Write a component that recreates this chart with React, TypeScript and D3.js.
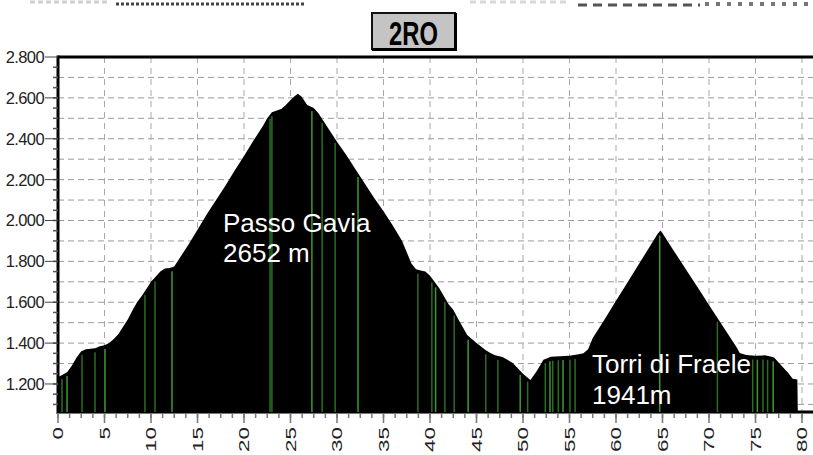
import React from "react";
import * as d3 from "d3";

const distances = [0, 0.5, 1, 1.5, 2, 2.5, 3, 3.5, 4, 4.5, 5, 5.5, 6, 6.5, 7, 7.5, 8, 8.5, 9, 9.5, 10, 10.5, 11, 11.5, 12, 12.5, 13, 14, 15, 16, 17, 18, 19, 20, 21, 22, 22.5, 23, 24, 24.5, 25, 25.5, 25.8, 26.2, 26.8, 27.5, 28, 29, 30, 31, 32, 33, 34, 35, 36, 37, 37.5, 38, 38.5, 39, 39.5, 40, 41, 42, 42.5, 43, 43.5, 44, 45, 46, 46.5, 47, 47.8, 48.9, 50, 50.8, 51.5, 52.2, 53, 54, 55, 56, 56.5, 57, 57.5, 58, 59, 60, 61, 62, 63, 64, 64.5, 64.8, 65, 66, 67, 68, 69, 70, 71, 72, 73, 73.3, 74, 75, 76, 76.5, 77, 78, 78.5, 79, 79.5, 79.55, 82];
const elevations = [1234, 1245, 1259, 1290, 1330, 1360, 1370, 1372, 1375, 1385, 1390, 1400, 1420, 1445, 1480, 1515, 1560, 1600, 1630, 1665, 1700, 1725, 1750, 1765, 1768, 1775, 1810, 1880, 1955, 2030, 2100, 2170, 2245, 2315, 2390, 2460, 2500, 2530, 2545, 2565, 2590, 2610, 2620, 2605, 2565, 2550, 2525, 2455, 2385, 2320, 2250, 2180, 2110, 2045, 1975, 1900, 1845, 1790, 1762, 1755, 1750, 1730, 1668, 1590, 1563, 1520, 1480, 1440, 1401, 1365, 1352, 1340, 1332, 1303, 1250, 1220, 1265, 1318, 1333, 1336, 1338, 1345, 1350, 1370, 1425, 1460, 1533, 1607, 1680, 1753, 1826, 1900, 1936, 1951, 1937, 1867, 1797, 1727, 1657, 1587, 1517, 1447, 1377, 1352, 1342, 1338, 1340, 1336, 1330, 1280, 1255, 1225, 1222, 1070, 1070];
const markerKm = [0.43, 0.97, 2.58, 3.98, 5.05, 9.35, 10.43, 12.26, 22.8, 23.0, 27.3, 28.4, 29.8, 32.26, 38.7, 40.2, 40.6, 41.6, 42.6, 44.1, 46.0, 47.3, 49.7, 50.5, 52.4, 52.9, 53.2, 53.8, 54.3, 55.05, 55.6, 64.7, 70.9, 74.7, 75.2, 75.8, 76.3, 76.9];
const yTicks = [1200, 1400, 1600, 1800, 2000, 2200, 2400, 2600, 2800];
const yTickLabels = ["1.200", "1.400", "1.600", "1.800", "2.000", "2.200", "2.400", "2.600", "2.800"];
const xTicks = [0, 5, 10, 15, 20, 25, 30, 35, 40, 45, 50, 55, 60, 65, 70, 75, 80];
const title = "2RO";
const peakLabels = [
  { name: "Passo Gavia", height: "2652 m" },
  { name: "Torri di Fraele", height: "1941m" },
];

const W = 813;
const H = 455;
const left = 58;
const top = 57;
const bottom = 413;
const FONT = "'Liberation Sans', Arial, sans-serif";

export default function App() {
  const x = d3.scaleLinear().domain([0, 80]).range([left, 802]);
  const y = d3.scaleLinear().domain([1058, 2800]).range([bottom, top]);
  const xMaxKm = x.invert(W + 2);

  const pts: [number, number][] = distances.map((d, i) => [d, elevations[i]]);
  const area = d3
    .area<[number, number]>()
    .x((d) => x(d[0]))
    .y0(bottom)
    .y1((d) => y(d[1]))
    .curve(d3.curveLinear);

  const elevAt = (km: number) => {
    const i = d3.bisectRight(distances, km);
    if (i <= 0) return elevations[0];
    if (i >= distances.length) return elevations[elevations.length - 1];
    const d0 = distances[i - 1], d1 = distances[i];
    const t = (km - d0) / (d1 - d0);
    return elevations[i - 1] + t * (elevations[i] - elevations[i - 1]);
  };

  const hGrid = d3.range(1100, 2800, 100);
  const vGrid = d3.range(5, 85, 5);
  const yMinor = d3.range(1100, 2800, 50);
  const xMinor = d3.range(0, xMaxKm, 1.25);

  const labelPos = [
    { x: 223, y1: 232, y2: 262 },
    { x: 592, y1: 373, y2: 404 },
  ];

  return (
    <svg width={W} height={H} style={{ position: "absolute", left: 0, top: 0, background: "#fff" }}>
      {/* top cropped fragments */}
      <line x1={30} x2={110} y1={2} y2={2} stroke="#d0d0d0" strokeWidth={3} strokeDasharray="5,3" />
      <line x1={116} x2={305} y1={4} y2={4} stroke="#444" strokeWidth={3} strokeDasharray="3,2" />
      <line x1={470} x2={570} y1={2} y2={2} stroke="#d8d8d8" strokeWidth={3} strokeDasharray="6,4" />
      <line x1={578} x2={700} y1={5} y2={5} stroke="#555" strokeWidth={3} strokeDasharray="9,6" />
      <line x1={705} x2={808} y1={4} y2={4} stroke="#777" strokeWidth={4} strokeDasharray="4,7" />

      {/* title box */}
      <rect x={372} y={13} width={83} height={36} fill="#c4c4c4" stroke="#111" strokeWidth={2} />
      <line x1={372} x2={456} y1={49.5} y2={49.5} stroke="#000" strokeWidth={3} />
      <line x1={455.5} x2={455.5} y1={13} y2={51} stroke="#000" strokeWidth={3} />
      <text
        x={0}
        y={0}
        transform="translate(413.5,45) scale(0.72,1)"
        textAnchor="middle"
        fontFamily={FONT}
        fontWeight="bold"
        fontSize={33}
        fill="#000"
      >
        {title}
      </text>

      {/* grid */}
      {hGrid.map((v) => (
        <line key={"h" + v} x1={left} x2={W} y1={y(v)} y2={y(v)} stroke="#9a9a9a" strokeWidth={1} strokeDasharray="6,4" />
      ))}
      {vGrid.map((k) => (
        <line key={"v" + k} x1={x(k)} x2={x(k)} y1={top} y2={bottom} stroke="#a8a8a8" strokeWidth={1} strokeDasharray="6,5" />
      ))}

      {/* profile */}
      <path d={area(pts) || ""} fill="#000" />
      {markerKm.map((k, i) => (
        <line
          key={"m" + i}
          x1={x(k)}
          x2={x(k)}
          y1={bottom - 1}
          y2={y(elevAt(k)) + 4}
          stroke={i % 3 === 1 ? "#3c9a2e" : "#2a6e22"}
          strokeWidth={1.5}
        />
      ))}

      {/* frame */}
      <line x1={left} x2={W} y1={top} y2={top} stroke="#000" strokeWidth={3} />
      <line x1={left} x2={left} y1={top - 1.5} y2={bottom + 1} stroke="#000" strokeWidth={3} />
      <line x1={left} x2={W} y1={bottom + 0.5} y2={bottom + 0.5} stroke="#777" strokeWidth={1} />

      {/* y axis */}
      {yMinor.map((v) => (
        <line key={"ym" + v} x1={left - 5} x2={left} y1={y(v)} y2={y(v)} stroke="#555" strokeWidth={1.5} />
      ))}
      {yTicks.map((v, i) => (
        <g key={"yt" + v}>
          <line x1={left - 13} x2={left} y1={y(v)} y2={y(v)} stroke="#444" strokeWidth={1} />
          <text x={44} y={y(v) + 6} textAnchor="end" fontFamily={FONT} fontSize={16.5} fill="#222" letterSpacing={-0.6}>
            {yTickLabels[i]}
          </text>
        </g>
      ))}

      {/* x axis */}
      {xMinor.map((k) => (
        <line key={"xm" + k} x1={x(k)} x2={x(k)} y1={bottom} y2={bottom + 5} stroke="#777" strokeWidth={1.5} />
      ))}
      {xTicks.map((k) => (
        <g key={"xt" + k}>
          <line x1={x(k)} x2={x(k)} y1={bottom} y2={bottom + 10} stroke="#777" strokeWidth={1.5} />
          <text
            transform={`translate(${x(k) + 5},${427}) rotate(-90) scale(1.6,1)`}
            textAnchor="end"
            fontFamily={FONT}
            fontSize={14}
            fill="#222"
          >
            {k}
          </text>
        </g>
      ))}

      {/* peak labels */}
      {peakLabels.map((p, i) => (
        <g key={"pl" + i} fontFamily={FONT} fontSize={26} fill="#fff">
          <text x={labelPos[i].x} y={labelPos[i].y1}>{p.name}</text>
          <text x={labelPos[i].x} y={labelPos[i].y2}>{p.height}</text>
        </g>
      ))}
    </svg>
  );
}
